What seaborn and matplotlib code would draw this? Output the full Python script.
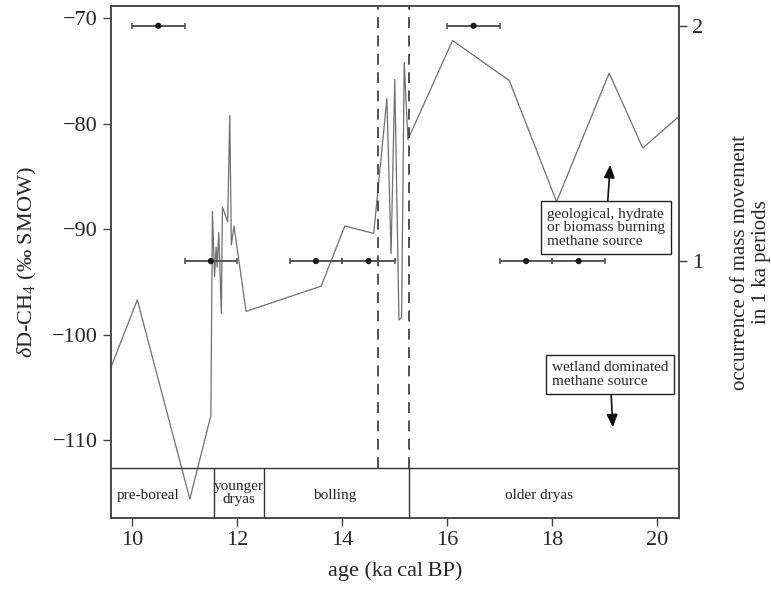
import matplotlib
matplotlib.use("Agg")
import matplotlib.pyplot as plt
import pandas as pd
import seaborn as sns

# dD-CH4 record
age = [9.6, 10.1, 11.1, 11.5, 11.53, 11.57, 11.60, 11.62, 11.65, 11.70, 11.72,
       11.82, 11.86, 11.89, 11.94, 12.17, 13.6, 14.05, 14.6, 14.85, 14.93,
       15.0, 15.08, 15.13, 15.18, 15.25, 16.1, 17.18, 18.08, 19.08, 19.72, 20.41]
dD = [-103.1, -96.7, -115.6, -107.7, -88.3, -94.5, -91.7, -93.6, -90.3, -98.0, -87.9,
      -89.3, -79.2, -91.5, -89.7, -97.8, -95.4, -89.7, -90.4, -77.6, -92.3,
      -75.8, -98.6, -98.4, -74.2, -81.5, -72.1, -75.9, -87.4, -75.2, -82.3, -79.3]

# mass movement occurrences (right axis)
mm_age = [10.5, 16.5, 11.5, 13.5, 14.5, 17.5, 18.5]
mm_count = [2, 2, 1, 1, 1, 1, 1]
mm_err = [0.5, 0.5, 0.5, 0.5, 0.5, 0.5, 0.5]

# climate zones along the bottom
zone_edges = [11.556, 12.504, 15.267]
zone_names = ["pre-boreal", "younger\ndryas", "bolling", "older dryas"]
zone_mid = [10.3, 12.03, 13.85, 17.75]
dashed_ages = [14.69, 15.267]

sns.set_theme(style="ticks")
plt.rcParams["font.family"] = ["Liberation Serif", "DejaVu Serif"]
plt.rcParams["mathtext.fontset"] = "custom"
plt.rcParams["mathtext.rm"] = "Liberation Serif"
plt.rcParams["mathtext.it"] = "Liberation Serif:italic"

XMIN, XMAX = 9.6, 20.41
YMIN, YMAX = -117.4, -68.83
BAND_TOP = -112.64
dark = "#333333"

fig = plt.figure(figsize=(7.71, 5.91), dpi=100)
ax = fig.add_axes([0.144, 0.1235, 0.7367, 0.8663])

df = pd.DataFrame({"age": age, "dD": dD})
sns.lineplot(data=df, x="age", y="dD", ax=ax, sort=False, estimator=None,
             color="#6f6f6f", linewidth=0.9)

# zone band
ax.axhline(BAND_TOP, color=dark, lw=1.0)
ax.vlines(zone_edges, YMIN, BAND_TOP, color=dark, lw=1.0)
for name, xm in zip(zone_names, zone_mid):
    ym = BAND_TOP - 0.55 * (BAND_TOP - YMIN)
    if "\n" in name:
        ym = BAND_TOP - 0.5 * (BAND_TOP - YMIN)
    ax.text(xm, ym, name, ha="center", va="center", fontsize=11,
            linespacing=1.0, color="#222222")
ax.vlines(dashed_ages, BAND_TOP, YMAX, color=dark, lw=1.2,
          linestyles=(0, (6.5, 4.5)))

ax.set_xlim(XMIN, XMAX)
ax.set_ylim(YMIN, YMAX)
ax.set_xticks([10, 12, 14, 16, 18, 20])
ax.set_yticks([-70, -80, -90, -100, -110])
ax.set_xlabel("age (ka\u2009cal\u2009BP)", fontsize=16, labelpad=8)
ax.set_ylabel(r"$\it{\delta}$D-CH$_4$ ($\it{‰}$ SMOW)", fontsize=16, labelpad=9)
ax.tick_params(labelsize=16, direction="out", length=6, width=1.0, color="#444444")

# right axis
ax2 = ax.twinx()
ax2.errorbar(mm_age, mm_count, xerr=mm_err, fmt="none", ecolor="#555555",
             elinewidth=1.4, capsize=2.2, capthick=1.2)
sns.scatterplot(x=mm_age, y=mm_count, ax=ax2, color="#1a1a1a", s=20,
                edgecolor="none", zorder=5)
ax2.set_ylim(-0.092, 2.084)
ax2.set_yticks([1, 2])
ax2.set_ylabel("occurrence of mass movement\nin 1 ka periods", fontsize=15,
               labelpad=20, linespacing=1.1)
ax2.tick_params(labelsize=16, direction="out", length=6, width=1.0, color="#444444")

for a in (ax, ax2):
    for s in a.spines.values():
        s.set_color("#444444")
        s.set_linewidth(1.1)

box = dict(boxstyle="square,pad=0.4", fc="white", ec="#222222", lw=1.0)
arrow = dict(arrowstyle="-|>,head_length=0.7,head_width=0.3", color="#111111", lw=1.2,
             shrinkA=0, shrinkB=0)
ax.annotate("geological, hydrate\nor biomass burning\nmethane source",
            xy=(19.1, -83.9), xytext=(19.02, -89.85), ha="center", va="center",
            multialignment="left", fontsize=11, linespacing=1.05, bbox=box,
            arrowprops=arrow)
ax.annotate("wetland dominated\nmethane source",
            xy=(19.15, -108.8), xytext=(19.1, -103.8), ha="center", va="center",
            multialignment="left", fontsize=11, linespacing=1.05, bbox=box,
            arrowprops=arrow)

fig.savefig("out.png", dpi=100)
